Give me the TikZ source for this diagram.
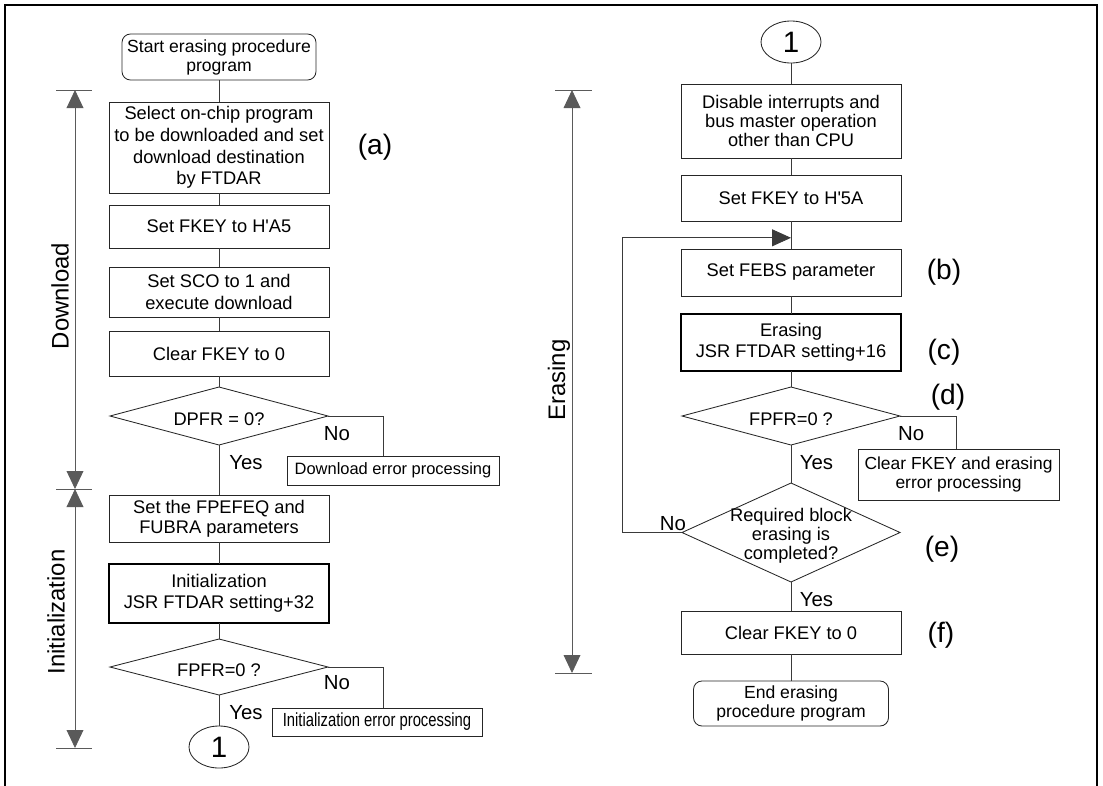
\documentclass[tikz,border=0pt]{standalone}
\usepackage{fontspec}
\setmainfont{Liberation Sans}
\usepackage{graphicx}
\usetikzlibrary{shapes.geometric, arrows.meta, positioning, calc}
\definecolor{inkgray}{HTML}{3A3A3A}
\definecolor{spangray}{HTML}{5A5A5A}

\begin{document}
\begin{tikzpicture}[
  node distance=0.4cm,
  font=\fontsize{13}{15}\selectfont,
  link/.style={draw=inkgray, line width=0.6pt},
  proc/.style={rectangle, draw=black!85, line width=0.6pt, align=center, minimum width=5.5cm, inner sep=1pt, outer sep=0pt},
  call/.style={proc, draw=black, line width=1.4pt},
  term/.style={rectangle, rounded corners=6pt, draw=black!85, line width=0.6pt, align=center, minimum width=4.85cm, minimum height=1.15cm, inner sep=1pt, outer sep=0pt, font=\fontsize{12.5}{13.5}\selectfont},
  decide/.style={diamond, draw=black!85, line width=0.6pt, inner sep=0pt, outer sep=0pt, minimum width=5.45cm},
  dtext/.style={align=center, inner sep=0pt, yshift=-0.08cm},
  errbox/.style={rectangle, draw=black!85, line width=0.6pt, align=center, anchor=north west, inner sep=1pt, outer sep=0pt, font=\fontsize{12}{14}\selectfont},
  conn/.style={ellipse, draw=black!85, line width=0.6pt, inner sep=0pt, outer sep=0pt, minimum width=1.5cm, minimum height=1.05cm, font=\fontsize{21}{21}\selectfont},
  tag/.style={font=\fontsize{20}{20}\selectfont},
  phase/.style={rotate=90, font=\fontsize{17}{17}\selectfont},
  yn/.style={font=\fontsize{14.5}{15}\selectfont, inner sep=1pt},
  span/.style={draw=spangray, line width=0.6pt, {Triangle[length=0.45cm,width=0.42cm]}-{Triangle[length=0.45cm,width=0.42cm]}},
  tickline/.style={draw=spangray, line width=0.6pt},
  arrow/.style={link, -{Triangle[length=0.475cm,width=0.425cm]}},
  frame/.style={line width=1.8pt}
]
  \useasboundingbox (0,0) rectangle (27.575,-19.625);

  % outer frame, open at the bottom
  \coordinate (fbl) at (0.125,-19.8);
  \coordinate (ftr) at (27.425,-0.125);
  \coordinate (fbr) at (27.425,-19.8);
  \draw[frame] (fbl) |- (ftr) -- (fbr);

  % left column
  \node[term] (start) at (5.475,-1.425) {Start erasing procedure\\program};
  \node[proc, below=0.55cm of start, minimum height=2.275cm, font=\fontsize{13}{15.5}\selectfont] (select) {Select on-chip program\\to be downloaded and set\\download destination\\by FTDAR};
  \node[proc, below=0.3cm of select, minimum height=1.075cm] (keya5) {Set FKEY to H\textquotesingle A5};
  \node[proc, below=0.475cm of keya5, minimum height=1.25cm] (sco) {Set SCO to 1 and\\execute download};
  \node[proc, below=0.35cm of sco, minimum height=1.125cm] (clrdl) {Clear FKEY to 0};
  \node[decide, below=0.275cm of clrdl, minimum height=1.45cm] (dpfr) {};
  \node[dtext] (dpfrt) at (dpfr) {DPFR = 0?};
  \node[proc, below=1.25cm of dpfr, minimum height=1.175cm, font=\fontsize{13}{14.5}\selectfont] (fpefeq) {Set the FPEFEQ and\\FUBRA parameters};
  \node[call, below=0.55cm of fpefeq, minimum height=1.475cm] (initcall) {Initialization\\JSR FTDAR setting+32};
  \node[decide, below=0.4cm of initcall, minimum height=1.4cm] (fpfra) {};
  \node[dtext] (fpfrat) at (fpfra) {FPFR=0 ?};
  \node[conn, below=0.775cm of fpfra] (outa) {1};

  \node[errbox, minimum width=5.3cm, minimum height=0.725cm, font=\fontsize{11.7}{13}\selectfont] (dlerr) at (7.175,-11.4) {Download error processing};
  \node[errbox, minimum width=5.25cm, minimum height=0.7cm] (initerr) at (6.8,-17.7) {\scalebox{0.78}[1]{\fontsize{13.5}{14}\selectfont Initialization error processing}};

  % right column
  \node[conn] (ina) at (19.775,-1.05) {1};
  \node[proc, below=0.525cm of ina, minimum height=1.85cm, font=\fontsize{13}{13.5}\selectfont] (disable) {Disable interrupts and\\bus master operation\\other than CPU};
  \node[proc, below=0.425cm of disable, minimum height=1.15cm] (key5a) {Set FKEY to H\textquotesingle 5A};
  \node[proc, below=0.7cm of key5a, minimum height=1.175cm] (febs) {Set FEBS parameter};
  \node[call, below=0.45cm of febs, minimum height=1.425cm] (erasecall) {Erasing\\JSR FTDAR setting+16};
  \node[decide, below=0.4cm of erasecall, minimum height=1.45cm] (fpfrb) {};
  \node[dtext] (fpfrbt) at (fpfrb) {FPFR=0 ?};
  \node[decide, below=0.95cm of fpfrb, minimum height=2.475cm] (req) {};
  \node[dtext, font=\fontsize{13}{13.5}\selectfont] (reqt) at (req) {Required block\\erasing is\\completed?};
  \node[proc, below=0.725cm of req, minimum height=1.075cm] (clrer) {Clear FKEY to 0};
  \node[term, below=0.675cm of clrer, minimum width=4.875cm, minimum height=1.125cm] (stop) {End erasing\\procedure program};

  \node[errbox, minimum width=5.025cm, minimum height=1.275cm, font=\fontsize{12.4}{14}\selectfont] (ererr) at (21.45,-11.225) {Clear FKEY and erasing\\error processing};

  % step tags
  \node[tag] (taga) at ([xshift=1.15cm]select.east) {(a)};
  \node[tag] (tagb) at ([xshift=1.075cm]febs.east) {(b)};
  \node[tag] (tagc) at ([xshift=1.075cm, yshift=-0.24cm]erasecall.east) {(c)};
  \node[tag] (tagd) at ([xshift=1.2cm, yshift=0.475cm]fpfrb.east) {(d)};
  \node[tag] (tage) at ([xshift=1.05cm, yshift=-0.425cm]req.east) {(e)};
  \node[tag] (tagf) at ([xshift=1.0cm, yshift=-0.06cm]clrer.east) {(f)};

  % phase spans
  \coordinate (dltop) at (1.875,-2.25);
  \coordinate (dlbot) at (1.875,-12.225);
  \coordinate (inbot) at (1.875,-18.7);
  \coordinate (ertop) at (14.3,-2.25);
  \coordinate (erbot) at (14.3,-16.825);
  \draw[span] (dltop) -- (dlbot);
  \draw[span] (dlbot) -- (inbot);
  \draw[span] (ertop) -- (erbot);
  \draw[tickline] ([xshift=-0.475cm]dltop) -- ([xshift=0.425cm]dltop);
  \draw[tickline] ([xshift=-0.475cm]dlbot) -- ([xshift=0.425cm]dlbot);
  \draw[tickline] ([xshift=-0.475cm]inbot) -- ([xshift=0.425cm]inbot);
  \draw[tickline] ([xshift=-0.425cm]ertop) -- ([xshift=0.5cm]ertop);
  \draw[tickline] ([xshift=-0.425cm]erbot) -- ([xshift=0.5cm]erbot);
  \node[phase] (dllabel) at (1.5,-7.4) {Download};
  \node[phase] (inlabel) at (1.4,-15.3) {Initialization};
  \node[phase] (erlabel) at (13.975,-9.5) {Erasing};

  % left connectors
  \draw[link] (start) -- (select);
  \draw[link] (select) -- (keya5);
  \draw[link] (keya5) -- (sco);
  \draw[link] (sco) -- (clrdl);
  \draw[link] (clrdl) -- (dpfr);
  \draw[link] (dpfr) -- node[yn, pos=0.36, right=6pt] {Yes} (fpefeq);
  \draw[link] (dpfr.east) -| node[yn, pos=0.08, below=6pt] {No} ($(dlerr.north west)!0.453!(dlerr.north east)$);
  \draw[link] (fpefeq) -- (initcall);
  \draw[link] (initcall) -- (fpfra);
  \draw[link] (fpfra) -- node[yn, pos=0.58, right=6pt] {Yes} (outa);
  \draw[link] (fpfra.east) -| node[yn, pos=0.08, below=5pt] {No} ($(initerr.north west)!0.529!(initerr.north east)$);

  % right connectors
  \draw[link] (ina) -- (disable);
  \draw[link] (disable) -- (key5a);
  \draw[link] (key5a) -- (febs);
  \draw[link] (febs) -- (erasecall);
  \draw[link] (erasecall) -- (fpfrb);
  \draw[link] (fpfrb) -- node[yn, pos=0.47, right=5pt] {Yes} (req);
  \draw[link] (fpfrb.east) -| node[yn, pos=0.1, below=6pt] {No} ($(ererr.north west)!0.488!(ererr.north east)$);
  \draw[arrow] (req.west) -- node[yn, pos=0.15, above=0pt] {No} ++(-1.5,0) |- ($(key5a.south)!0.6!(febs.north)$);
  \draw[link] (req) -- node[yn, pos=0.62, right=5pt] {Yes} (clrer);
  \draw[link] (clrer) -- (stop);
\end{tikzpicture}
\end{document}
